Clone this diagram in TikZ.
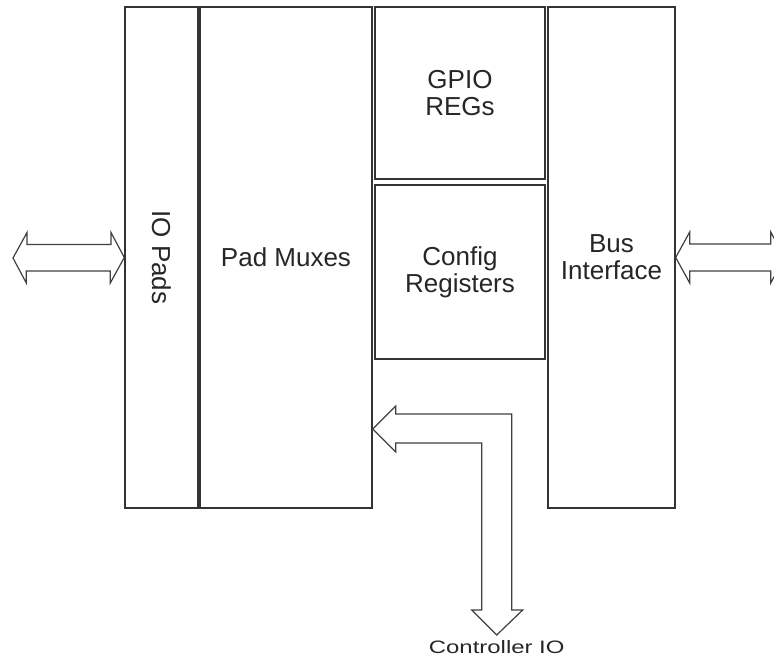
\documentclass[tikz,border=0pt]{standalone}
\usepackage{fontspec}
\setmainfont{Liberation Sans}
\newfontfamily\widesans[FakeStretch=1.33]{Liberation Sans}
\usetikzlibrary{positioning}

\begin{document}
\begin{tikzpicture}[x=1pt,y=-1pt,
  blk/.style={draw=black!80,line width=1.4pt,inner sep=0pt},
  lbl/.style={font=\fontsize{26}{27}\selectfont,align=center,text=black!85},
  bigarrow/.style={draw=black!75,line width=1.2pt,fill=white,line join=miter}]
\useasboundingbox (0,0) rectangle (774,660);
\clip (0,0) rectangle (774,660);
% blocks
\node[blk,minimum width=73pt,minimum height=501pt] (iopads) at (161.5,257.5) {};
\node[blk,minimum width=172pt,minimum height=501pt] (padmux) at (286,257.5) {};
\node[blk,minimum width=170pt,minimum height=172pt] (gpio) at (460,93) {};
\node[blk,minimum width=170pt,minimum height=174pt] (config) at (460,272) {};
\node[blk,minimum width=127pt,minimum height=501pt] (busif) at (611.5,257.5) {};
% labels
\node[lbl,rotate=-90] at (iopads.center) {IO Pads};
\node[lbl] at (padmux.center) {Pad Muxes};
\node[lbl] at (gpio.center) {GPIO\\REGs};
\node[lbl] at (config.center) {Config\\Registers};
\node[lbl] at (busif.center) {Bus\\Interface};
% left double arrow
\coordinate (lt) at (13,258);
\draw[bigarrow] (lt) -- ++(14,-25.5) -- ++(0,12) -- ++(84,0) -- ++(0,-12) -- (iopads.west)
  -- ++(-14,25.5) -- ++(0,-12) -- ++(-84,0) -- ++(0,12) -- cycle;
% right double arrow, runs off the page
\draw[bigarrow] (busif.east) -- ++(14,-25.5) -- ++(0,12) -- ++(81,0) -- ++(0,-12) -- ++(14,25.5)
  -- ++(-14,25.5) -- ++(0,-12) -- ++(-81,0) -- ++(0,12) -- cycle;
% controller io bend arrow
\coordinate (ctip) at (padmux.east |- 0,429);
\draw[bigarrow] (ctip) -- ++(23,-23) -- ++(0,8) -- ++(116,0) -- ++(0,196) -- ++(11,0)
  -- ++(-26,25) coordinate (cend) -- ++(-25,-25) -- ++(10,0) -- ++(0,-167) -- ++(-86,0)
  -- ++(0,9) -- cycle;
\node[font=\widesans\fontsize{18}{21}\selectfont,text=black!85,below=2pt of cend] (ctrlio) {Controller IO};
\end{tikzpicture}
\end{document}
